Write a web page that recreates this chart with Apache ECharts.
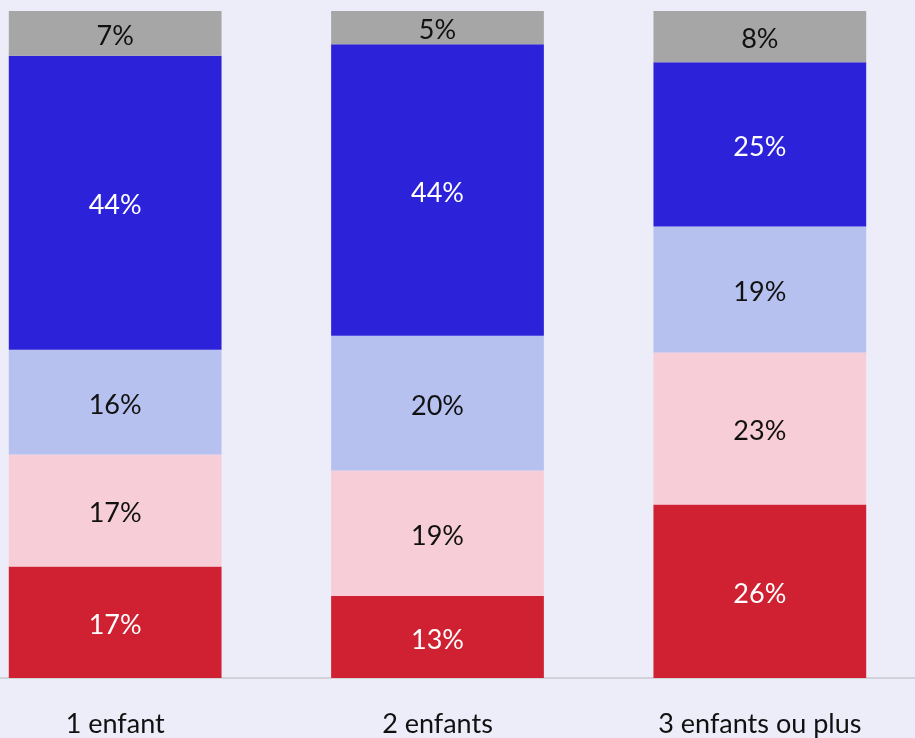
<!DOCTYPE html>
<html>
<head>
<meta charset="utf-8">
<script src="https://cdn.jsdelivr.net/npm/echarts@6/dist/echarts.min.js"></script>
<style>
  html, body { margin: 0; padding: 0; background: #ECEDF9; }
  #chart { width: 915px; height: 738px; }
</style>
</head>
<body>
<div id="chart"></div>
<script>
// categories
const categories = ['1 enfant', '2 enfants', '3 enfants ou plus'];

// shares (bottom to top)
const redValues = [16.7, 12.3, 26.0];
const pinkValues = [16.8, 18.8, 22.8];
const lightBlueValues = [15.7, 20.2, 18.9];
const blueValues = [44.1, 43.7, 24.6];
const greyValues = [6.7, 5.0, 7.7];

// printed labels
const redLabels = ['17%', '13%', '26%'];
const pinkLabels = ['17%', '19%', '23%'];
const lightBlueLabels = ['16%', '20%', '19%'];
const blueLabels = ['44%', '44%', '25%'];
const greyLabels = ['7%', '5%', '8%'];

const font = 'Lato, "Noto Sans", sans-serif';

const makeSerie = (name, values, labels, color, textColor) => ({
    name: name,
    type: 'bar',
    stack: 'total',
    barCategoryGap: '34%',
    data: values,
    itemStyle: { color: color },
    label: {
        show: true,
        position: 'inside',
        offset: [0, 3],
        color: textColor,
        fontFamily: font,
        fontSize: 27,
        formatter: p => labels[p.dataIndex]
    },
    emphasis: { disabled: true }
});

const chart = echarts.init(document.getElementById('chart'));

const option = {
    backgroundColor: '#ECEDF9',
    animation: false,
    grid: {
        left: -46,
        right: -6,
        top: 11,
        bottom: 60,
        outerBoundsMode: 'none'
    },
    xAxis: {
        type: 'category',
        data: categories,
        axisLine: { lineStyle: { color: '#D2D3DA', width: 2 } },
        axisTick: { show: false },
        axisLabel: {
            color: '#111',
            fontFamily: font,
            fontSize: 27,
            margin: 33
        }
    },
    yAxis: {
        type: 'value',
        min: 0,
        max: 100,
        show: false
    },
    series: [
        makeSerie('red', redValues, redLabels, '#CF2131', '#fff'),
        makeSerie('pink', pinkValues, pinkLabels, '#F7CDD7', '#111'),
        makeSerie('lightblue', lightBlueValues, lightBlueLabels, '#B6C1F0', '#111'),
        makeSerie('blue', blueValues, blueLabels, '#2C22D9', '#fff'),
        makeSerie('grey', greyValues, greyLabels, '#A6A6A6', '#111')
    ]
};

chart.setOption(option);
</script>
</body>
</html>
